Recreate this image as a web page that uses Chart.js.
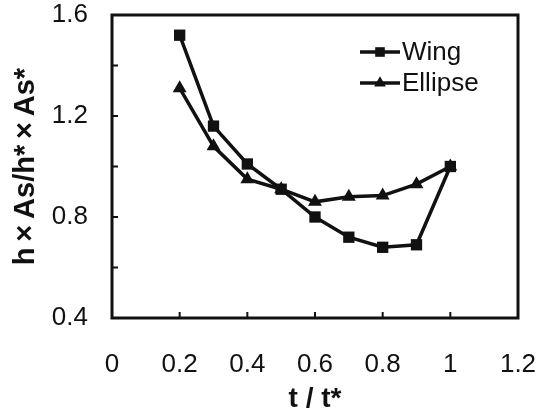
<!DOCTYPE html>
<html lang="en">
<head>
  <meta charset="UTF-8" />
  <title>h×As/h*×As* vs t/t*</title>
  <script src="https://cdn.jsdelivr.net/npm/chart.js"></script>
  <style>
    html, body { margin: 0; padding: 0; background: #fff; }
  </style>
</head>
<body>
  <canvas id="myChart" width="544" height="409"></canvas>

  <script>
    // data
    const tValues = [0.2, 0.3, 0.4, 0.5, 0.6, 0.7, 0.8, 0.9, 1.0];
    const wingValues = [1.52, 1.16, 1.01, 0.91, 0.80, 0.72, 0.68, 0.69, 1.00];
    const ellipseValues = [1.31, 1.08, 0.95, 0.91, 0.86, 0.88, 0.885, 0.93, 1.00];
    const seriesNames = ['Wing', 'Ellipse'];
    const yTickLabels = [0.4, 0.8, 1.2, 1.6];

    const ink = '#111';
    const fontFamily = '"Liberation Sans", Arial, sans-serif';

    function toPoints(values) {
      return tValues.map((t, i) => ({ x: t, y: values[i] }));
    }

    // little marker drawer, used by the legend
    function drawMarker(ctx, style, x, y, r) {
      ctx.beginPath();
      if (style === 'rect') {
        const h = r * Math.SQRT1_2;
        ctx.rect(x - h, y - h, h * 2, h * 2);
      } else {
        for (let k = 0; k < 3; k++) {
          const a = -Math.PI / 2 + k * 2 * Math.PI / 3;
          const px = x + Math.cos(a) * r, py = y + Math.sin(a) * r;
          if (k === 0) ctx.moveTo(px, py); else ctx.lineTo(px, py);
        }
        ctx.closePath();
      }
      ctx.fill();
    }

    // box round the plot + ticks pointing inward (bottom and left only)
    const framePlugin = {
      id: 'frame',
      afterDraw(chart) {
        const { ctx, chartArea: a, scales } = chart;
        ctx.save();
        ctx.strokeStyle = ink;
        ctx.lineWidth = 3;
        ctx.strokeRect(a.left, a.top, a.right - a.left, a.bottom - a.top);
        ctx.lineWidth = 2;
        ctx.beginPath();
        scales.x.ticks.forEach(t => {
          const px = scales.x.getPixelForValue(t.value);
          ctx.moveTo(px, a.bottom);
          ctx.lineTo(px, a.bottom - 6);
        });
        scales.y.ticks.forEach(t => {
          const py = scales.y.getPixelForValue(t.value);
          ctx.moveTo(a.left, py);
          ctx.lineTo(a.left + 6, py);
        });
        ctx.stroke();
        ctx.restore();
      }
    };

    // legend sits inside the plot, top right
    const legendPlugin = {
      id: 'insideLegend',
      afterDraw(chart) {
        const { ctx, chartArea: a } = chart;
        ctx.save();
        ctx.font = '26px ' + fontFamily;
        ctx.textBaseline = 'middle';
        ctx.textAlign = 'left';
        chart.data.datasets.forEach((ds, i) => {
          const y = a.top + 37 + i * 31;
          const x0 = a.right - 158;
          ctx.strokeStyle = ds.borderColor;
          ctx.fillStyle = ds.backgroundColor;
          ctx.lineWidth = 3.5;
          ctx.beginPath();
          ctx.moveTo(x0, y);
          ctx.lineTo(x0 + 40, y);
          ctx.stroke();
          drawMarker(ctx, ds.pointStyle, x0 + 20, y, ds.pointRadius * 0.85);
          ctx.fillStyle = ink;
          ctx.fillText(ds.label, x0 + 42, y + 1);
        });
        ctx.restore();
      }
    };

    const ctx = document.getElementById('myChart').getContext('2d');
    const myChart = new Chart(ctx, {
      type: 'line',
      data: {
        datasets: [
          {
            label: seriesNames[0],
            data: toPoints(wingValues),
            borderColor: ink,
            backgroundColor: ink,
            borderWidth: 3.5,
            pointStyle: 'rect',
            pointRadius: 8,
            pointBorderWidth: 0,
            tension: 0
          },
          {
            label: seriesNames[1],
            data: toPoints(ellipseValues),
            borderColor: ink,
            backgroundColor: ink,
            borderWidth: 3.5,
            pointStyle: 'triangle',
            pointRadius: 8,
            pointBorderWidth: 0,
            tension: 0
          }
        ]
      },
      options: {
        responsive: false,
        animation: false,
        devicePixelRatio: 1,
        layout: { padding: { top: 15, right: 26, left: 0, bottom: 0 } },
        plugins: {
          legend: { display: false },
          tooltip: { enabled: false }
        },
        scales: {
          x: {
            type: 'linear',
            min: 0,
            max: 1.2,
            grid: { display: false, drawTicks: false },
            border: { display: false },
            ticks: {
              stepSize: 0.2,
              autoSkip: false,
              maxRotation: 0,
              padding: 31,
              color: ink,
              font: { family: fontFamily, size: 26 },
              callback: v => String(Math.round(v * 10) / 10)
            },
            title: {
              display: true,
              text: 't / t*',
              color: ink,
              font: { family: fontFamily, size: 28, weight: 'bold', lineHeight: 0.7 },
              padding: { top: 0, bottom: 0 }
            },
            afterFit(scale) {
              scale.height = 91;
              scale.paddingLeft = 0;
              scale.paddingRight = 0;
            }
          },
          y: {
            min: 0.4,
            max: 1.6,
            grid: { display: false, drawTicks: false },
            border: { display: false },
            ticks: {
              stepSize: 0.2,
              autoSkip: false,
              padding: 24,
              color: ink,
              font: { family: fontFamily, size: 26 },
              callback: v => yTickLabels.some(l => Math.abs(l - v) < 1e-6) ? v.toFixed(1) : ''
            },
            title: {
              display: true,
              text: 'h\u2009×\u2009As/h*\u2009×\u2009As*',
              color: ink,
              font: { family: fontFamily, size: 29, weight: 'bold', lineHeight: 1 },
              padding: { top: 11, bottom: 0 }
            },
            afterFit(scale) {
              scale.width = 112;
              scale.paddingTop = 0;
              scale.paddingBottom = 0;
            }
          }
        }
      },
      plugins: [framePlugin, legendPlugin]
    });
  </script>
</body>
</html>
